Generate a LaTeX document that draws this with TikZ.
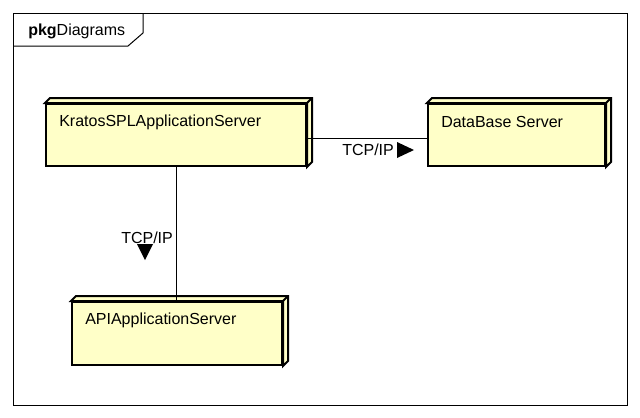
\documentclass[tikz,border=0pt]{standalone}
\usepackage{fontspec}
\setmainfont{Liberation Sans}
\usetikzlibrary{calc}
\definecolor{nodefill}{HTML}{FFFFC8}

\begin{document}
\begin{tikzpicture}[x=0.75pt, y=-0.75pt,
  font=\fontsize{12}{14}\selectfont,
  device/.style={rectangle, draw=black, line width=1.5pt, fill=nodefill,
                 inner sep=0pt},
  devlabel/.style={anchor=west, inner sep=0pt, xshift=10.5pt, yshift=-14.25pt},
  depth/.style={draw=black, line width=1.5pt, fill=nodefill},
  link/.style={draw=black, line width=0.75pt},
  linklabel/.style={anchor=west, inner sep=0pt}
]
  \useasboundingbox (0,0) rectangle (640,418);

  % package frame
  \draw[line width=0.75pt] (13,13) rectangle (627,405);
  \draw[line width=0.75pt] (13,46) -- (128,46) -- (143,33) -- (143,13);
  \node[anchor=west, inner sep=0pt] (title) at (28,31) {\textbf{pkg}Diagrams};

  % devices
  \node[device, minimum width=195pt, minimum height=46.5pt,
        label={[devlabel]north west:KratosSPLApplicationServer}] (kratos) at (176,135) {};
  \node[device, minimum width=132.75pt, minimum height=46.5pt,
        label={[devlabel]north west:DataBase Server}] (db) at (516.5,135) {};
  \node[device, minimum width=157.5pt, minimum height=47.25pt,
        label={[devlabel]north west:APIApplicationServer}] (api) at (177,333.5) {};

  \foreach \n in {kratos, db, api} {
    \filldraw[depth] (\n.north west) -- ++(5,-5) -- ($(\n.north east)+(5,-5)$)
      -- ($(\n.south east)+(5,-5)$) -- (\n.south east) -- (\n.north east) -- cycle;
    \draw[depth] (\n.north east) -- ++(5,-5);
  }

  % links
  \draw[link] ($(kratos.east)+(0,3)$) -- ($(db.west)+(0,3)$);
  \node[linklabel] (tcpdb) at (342,150) {TCP/IP};
  \fill ($(tcpdb.west)+(55,-8)$) -- ++(0,16) -- ++(17,-8) -- cycle;

  \draw[link] (kratos.south) -- (kratos.south |- api.north);
  \node[linklabel] (tcpapi) at (121,238) {TCP/IP};
  \fill ($(tcpapi.west)+(16,6)$) -- ++(16,0) -- ++(-8,16) -- cycle;
\end{tikzpicture}
\end{document}
